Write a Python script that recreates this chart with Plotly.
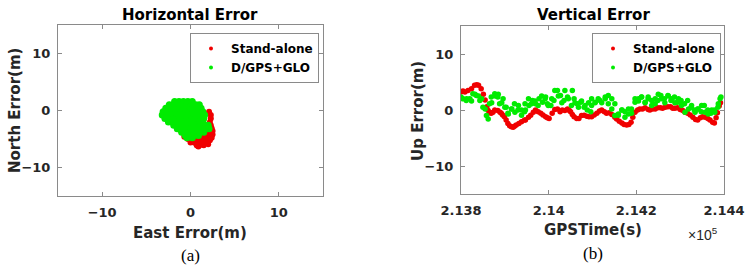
import plotly.graph_objects as go

# ---------------- data ----------------
# Horizontal error cloud (east, north) in metres, row by row
green_rows_north = [1.6, 1.0, 0.4, -0.2, -0.8, -1.4, -2.0, -2.6, -3.2, -3.8, -4.4, -4.8]
green_rows_east = [
    [-1.8, -1.3, -0.8, -0.3, 0.2],
    [-2.4, -1.9, -1.4, -0.9, -0.4, 0.1, 0.6, 1.0],
    [-2.8, -2.3, -1.8, -1.3, -0.8, -0.3, 0.2, 0.7, 1.2],
    [-3.1, -2.6, -2.1, -1.6, -1.1, -0.6, -0.1, 0.4, 0.9, 1.4],
    [-3.2, -2.7, -2.2, -1.7, -1.2, -0.7, -0.2, 0.3, 0.8, 1.3, 1.6],
    [-2.9, -2.4, -1.9, -1.4, -0.9, -0.4, 0.1, 0.6, 1.1, 1.5],
    [-2.5, -2.0, -1.5, -1.0, -0.5, 0.0, 0.5, 1.0, 1.4],
    [-1.9, -1.4, -0.9, -0.4, 0.1, 0.6, 1.1, 1.6, 2.0],
    [-1.5, -1.0, -0.5, 0.0, 0.5, 1.0, 1.5, 2.1],
    [-1.0, -0.5, 0.0, 0.5, 1.0, 1.5],
    [-0.6, -0.1, 0.4, 0.9],
    [-0.4, 0.2],
]
red_east = [2.1, 2.3, 2.3, 2.2, 2.3, 2.4, 2.5, 2.5, 2.4, 2.2, 1.9, 1.7, 1.2, 1.0, 0.7,
            0.4, 0.9, 1.4, 1.8, 0.1, -0.3, -0.7, -1.0, -1.3, 0.6, 1.1, 1.6, 2.0, 2.2,
            0.3, 1.3, 2.1, 0.0, 0.6, 1.2, 1.7, 2.2, 0.8, 1.5, 2.0]
red_north = [-0.2, -0.8, -1.4, -2.0, -2.6, -3.1, -3.6, -4.2, -4.8, -5.2, -5.4, -4.6, -5.2,
             -5.7, -6.1, -5.6, -6.3, -5.8, -5.6, -5.2, -5.0, -4.6, -3.8, -3.3, -5.3,
             -4.8, -4.2, -3.8, -4.4, -4.9, -6.0, -5.1, -5.6, -5.5, -5.4, -5.0, -4.0, -6.2,
             -6.1, -5.9]

green_east = [e for row in green_rows_east for e in row]
green_north = [n for n, row in zip(green_rows_north, green_rows_east) for _ in row]

# Vertical error time series (seconds after 213800, metres)
t0 = 213800
red_t = [0, 4.6, 9, 16, 24, 31, 36, 40, 46, 51, 55, 59, 62, 66, 69, 73, 77, 84, 89, 92,
         95, 99, 103, 107, 111, 115, 119, 122, 126, 132, 138, 145, 147, 154, 159, 165,
         170, 176, 182, 187, 193, 197, 201, 208, 214, 220, 226, 231, 237, 243, 247, 250,
         254, 258, 264, 269, 275, 281, 287, 292, 298, 304, 310, 316, 321, 327, 332, 338,
         344, 351, 355, 361, 367, 372, 378, 383, 388, 392, 397, 403, 408, 414, 420, 427,
         431, 437, 443, 449, 455, 460, 466, 472, 478, 483, 488, 494, 500, 506, 511, 517,
         523, 529, 535, 540, 546, 551, 557, 563, 568, 574, 578, 582, 585, 589, 592]
red_up = [3.2, 3.4, 3.2, 3.5, 3.8, 4.4, 4.5, 4.4, 3.8, 2.8, 1.8, 0.6, -0.1, -0.5, -0.6,
          -0.4, 0.0, -0.1, -0.4, -0.6, -0.9, -1.2, -1.8, -2.4, -2.8, -3.0, -3.1, -2.9,
          -2.7, -2.4, -2.1, -1.8, -1.8, -1.3, -0.95, -0.4, 0.0, -0.3, -0.6, -0.9, -1.2,
          -1.4, -1.5, -0.6, 0.1, 0.2, -0.3, 0.0, -0.1, 0.2, -0.1, -0.3, -0.8, -1.2, -1.5,
          -1.5, -1.0, -0.95, -1.1, -1.2, -1.2, -0.9, -0.6, -0.2, 0.0, -0.3, -0.6, -0.5,
          -0.8, -1.3, -1.6, -2.0, -2.3, -2.6, -2.7, -2.6, -2.2, -1.3, -0.4, 0.0, 0.2, 0.2,
          0.4, 0.1, 0.0, 0.2, 0.2, 0.4, 0.4, 0.3, 0.5, 0.6, 0.6, 0.3, 0.3, 0.4, 0.1, -0.1,
          -0.4, -0.6, -0.9, -1.3, -1.7, -1.8, -1.4, -1.2, -1.3, -1.5, -1.8, -2.2, -2.3,
          -1.4, -0.5, 0.7, 1.3]

# green dots were read in two passes over the band (both kept: the band is scattered)
green_t_a = [0, 13, 24, 32, 40, 47, 55, 62, 70, 78, 85, 93, 100, 108, 116, 123, 131, 138,
             146, 154, 161, 169, 176, 184, 192, 199, 207, 214, 222, 230, 237, 245, 252, 260,
             268, 275, 283, 291, 298, 306, 313, 321, 329, 336, 344, 351, 359, 367, 374, 382,
             389, 397, 405, 412, 420, 427, 435, 443, 450, 458, 465, 473, 481, 488, 496, 503,
             511, 519, 526, 534, 541, 549, 557, 564, 572, 579, 587, 593]
green_up_a = [2.3, 2.0, 1.6, 2.8, 2.5, 2.0, 0.2, -1.6, 1.3, 2.5, 2.8, 1.3, 0.5, -0.7, 0.2,
              -0.4, 0.8, 0.0, 1.1, 2.0, 1.1, 1.6, 0.8, 2.5, 2.0, 0.8, 2.0, 3.5, 2.5, 1.3,
              3.5, 2.0, 0.8, 1.3, 0.5, 1.6, 0.8, 1.3, 2.0, 1.3, 2.0, 1.3, 2.0, 1.1, 0.2,
              -1.0, -0.7, 0.0, -1.3, -0.7, 0.2, 2.0, 1.6, 2.3, 1.3, 2.0, 0.8, 2.0, 2.8, 2.0,
              1.3, 2.5, 2.0, 1.3, 2.0, 0.8, -0.4, 0.2, 0.8, -0.4, 0.2, 0.8, -0.4, -0.7, 0.0,
              -0.4, 1.1, 2.3]
green_t_b = [4.6, 12, 20, 27, 35, 43, 50, 58, 65, 69, 77, 84, 88, 96, 103, 107, 115, 122,
             130, 138, 145, 147, 155, 163, 170, 178, 186, 193, 197, 205, 212, 220, 227, 235,
             243, 254, 258, 265, 273, 281, 288, 296, 298, 306, 317, 329, 336, 344, 351, 359,
             367, 374, 382, 389, 397, 405, 412, 420, 427, 435, 443, 449, 456, 464, 472, 479,
             487, 494, 502, 510, 517, 525, 532, 540, 548, 555, 563, 570, 578, 586, 591]
green_up_b = [2.0, 1.7, 2.0, 2.9, 2.6, 1.7, 0.5, -1.0, 1.1, 2.3, 2.9, 2.3, 1.1, 2.0, 0.5,
              -0.6, 0.2, 1.1, 0.0, -0.95, -0.3, 0.0, 0.8, 1.7, 1.1, 2.0, 1.4, 2.3, 1.1, 0.8,
              1.7, 3.5, 2.6, 1.7, 2.3, 3.5, 2.0, 1.1, 1.4, 0.5, 0.0, -0.3, 0.8, 1.4, 1.7,
              2.3, 2.6, 2.0, 1.1, -0.95, 0.0, -0.3, 0.2, -0.6, 1.4, 2.0, 2.3, 1.4, 2.3, 1.7,
              1.1, 1.7, 2.6, 2.0, 2.6, 1.7, 2.3, 1.4, 1.7, 1.1, 1.7, 0.5, 0.0, 0.2, -0.3,
              0.8, 0.0, -0.6, 0.0, 0.5, 2.0]

green_t = green_t_a + green_t_b
green_up = green_up_a + green_up_b

series_names = ["Stand-alone", "D/GPS+GLO"]
h_ticks = [-10, 0, 10]
v_tickvals = [213800, 214000, 214200, 214400]
v_ticktext = ["2.138", "2.14", "2.142", "2.144"]

RED = "rgb(240,0,0)"
GREEN = "rgb(0,235,0)"
FONT = "DejaVu Sans"
TXT = "#262626"
BOX = "#8a8a8a"

fig = go.Figure()

fig.add_trace(go.Scatter(x=red_east, y=red_north, mode="markers", name=series_names[0],
                         marker=dict(color=RED, size=6), xaxis="x", yaxis="y", showlegend=False))
fig.add_trace(go.Scatter(x=green_east, y=green_north, mode="markers", name=series_names[1],
                         marker=dict(color=GREEN, size=7), xaxis="x", yaxis="y", showlegend=False))

fig.add_trace(go.Scatter(x=[t0 + t for t in red_t], y=red_up, mode="markers", name=series_names[0],
                         marker=dict(color=RED, size=5.5), xaxis="x2", yaxis="y2", showlegend=False))
fig.add_trace(go.Scatter(x=[t0 + t for t in green_t], y=green_up, mode="markers", name=series_names[1],
                         marker=dict(color=GREEN, size=5.5), xaxis="x2", yaxis="y2", showlegend=False))

# legend entries (small dot keys, as in the reference)
for lg, xa, ya in (("legend", "x", "y"), ("legend2", "x2", "y2")):
    for nm, col in zip(series_names, (RED, GREEN)):
        fig.add_trace(go.Scatter(x=[None], y=[None], mode="markers", name=nm,
                                 marker=dict(color=col, size=4), xaxis=xa, yaxis=ya,
                                 legend=lg, showlegend=True))

W, H = 751, 278

def ax(domain, rng, **kw):
    d = dict(domain=domain, range=rng, showgrid=False, zeroline=False,
             showline=True, linecolor=BOX, linewidth=1, mirror="ticks",
             ticks="inside", ticklen=4, tickcolor=BOX, automargin=False,
             tickfont=dict(family=FONT, size=13, color=TXT, weight="bold"))
    d.update(kw)
    return d

legend_common = dict(bgcolor="white", bordercolor=BOX, borderwidth=1,
                     font=dict(family=FONT, size=12, color="black", weight="bold"),
                     xanchor="left", yanchor="top", itemsizing="trace",
                     tracegroupgap=0, itemwidth=30)

fig.update_layout(
    width=W, height=H, margin=dict(l=0, r=0, t=0, b=0, pad=0, autoexpand=False),
    paper_bgcolor="white", plot_bgcolor="white", showlegend=True,
    xaxis=ax([58 / W, 323 / W], [-15, 15], tickvals=h_ticks, anchor="y", ticklabelstandoff=4),
    yaxis=ax([1 - 196 / H, 1 - 25 / H], [-15, 15], tickvals=h_ticks, anchor="x", ticklabelstandoff=4),
    xaxis2=ax([461 / W, 724 / W], [213800, 214400], tickvals=v_tickvals, ticktext=v_ticktext,
              anchor="y2", ticklabelstandoff=4),
    yaxis2=ax([1 - 194 / H, 1 - 26 / H], [-15, 15], tickvals=h_ticks, anchor="x2", ticklabelstandoff=4),
    legend=dict(x=190 / W, y=1 - 33 / H, **legend_common),
    legend2=dict(x=592 / W, y=1 - 33 / H, **legend_common),
)

def txt(x, y, s, size=15, bold=True, family=FONT, angle=0, color=TXT):
    fig.add_annotation(x=x / W, y=1 - y / H, xref="paper", yref="paper", text=s,
                       showarrow=False, xanchor="center", yanchor="middle", textangle=angle,
                       font=dict(family=family, size=size, color=color,
                                 weight="bold" if bold else "normal"))

txt(190, 15, "Horizontal Error", size=15, color="black")
txt(593, 15, "Vertical Error", size=15, color="black")
txt(190, 233, "East Error(m)", size=15)
txt(593, 230, "GPSTime(s)", size=15)
txt(15, 111, "North Error(m)", size=15, angle=-90)
txt(418, 111, "Up Error(m)", size=15, angle=-90)
txt(703, 234, "×10<sup>5</sup>", size=14, bold=False, family="Liberation Sans")
txt(190, 255, "(a)", size=17, bold=False, family="Liberation Serif", color="black")
txt(593, 253, "(b)", size=17, bold=False, family="Liberation Serif", color="black")

fig.write_html("out.html", config={"displayModeBar": False},
               post_script="document.body.style.margin='0px';document.body.style.overflow='hidden';")
